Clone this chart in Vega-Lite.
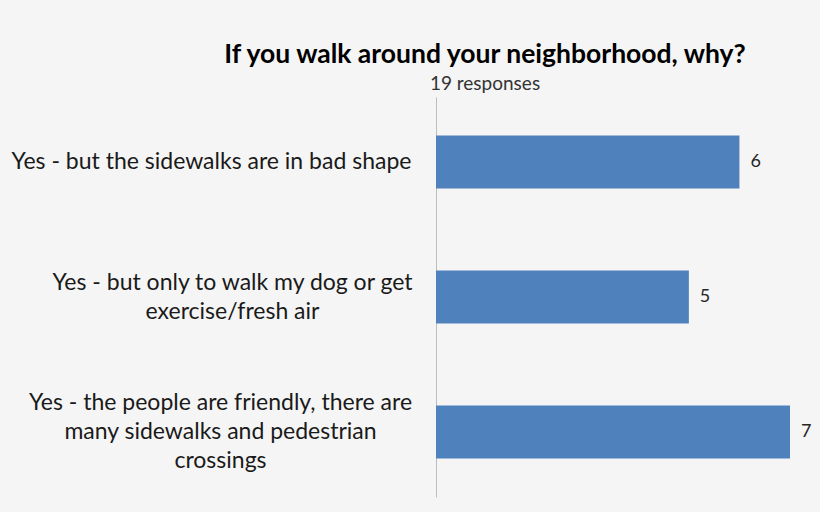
{
  "$schema": "https://vega.github.io/schema/vega-lite/v6.json",
  "width": 354,
  "height": 400,
  "autosize": {"type": "none"},
  "padding": {"left": 436, "top": 97, "right": 30, "bottom": 15},
  "background": "#f5f5f5",
  "config": {"view": {"stroke": null}, "font": "Lato"},
  "title": {
    "text": "If you walk around your neighborhood, why?",
    "subtitle": "19 responses",
    "anchor": "middle",
    "frame": "group",
    "dx": -128,
    "offset": 3,
    "font": "Lato",
    "fontSize": 26.5,
    "fontWeight": "bold",
    "color": "#000000",
    "subtitleFont": "Lato",
    "subtitleFontSize": 19,
    "subtitleColor": "#333333",
    "subtitlePadding": 7
  },
  "data": {
    "values": [
      {"answer": "Yes - but the sidewalks are in bad shape", "count": 6},
      {"answer": "Yes - but only to walk my dog or get|exercise/fresh air", "count": 5},
      {"answer": "Yes - the people are friendly, there are|many sidewalks and pedestrian|crossings", "count": 7}
    ]
  },
  "encoding": {
    "y": {
      "field": "answer",
      "type": "nominal",
      "sort": null,
      "scale": {"paddingInner": 0.607, "paddingOuter": 0.285},
      "axis": {
        "title": null,
        "ticks": false,
        "domainColor": "#bdbdbd",
        "domainWidth": 1,
        "labelExpr": "split(datum.label, '|')",
        "labelAlign": "center",
        "labelBaseline": "middle",
        "labelFont": "Lato",
        "labelFontSize": 23,
        "labelColor": "#1a1a1a",
        "labelLineHeight": 29,
        "labelLimit": 500,
        "labelPadding": {
          "condition": [
            {"test": "datum.value == 'Yes - but the sidewalks are in bad shape'", "value": 225},
            {"test": "datum.value == 'Yes - but only to walk my dog or get|exercise/fresh air'", "value": 204}
          ],
          "value": 216
        },
        "labelOffset": {
          "condition": [
            {"test": "datum.value == 'Yes - but the sidewalks are in bad shape'", "value": 0},
            {"test": "datum.value == 'Yes - but only to walk my dog or get|exercise/fresh air'", "value": -14.5}
          ],
          "value": -29
        }
      }
    },
    "x": {
      "field": "count",
      "type": "quantitative",
      "scale": {"domain": [0, 7]},
      "axis": null
    }
  },
  "layer": [
    {"mark": {"type": "bar", "color": "#4f81bd"}},
    {
      "mark": {"type": "text", "align": "left", "dx": 11, "fontSize": 18, "color": "#262626", "font": "Lato"},
      "encoding": {"text": {"field": "count", "type": "quantitative"}}
    }
  ]
}
